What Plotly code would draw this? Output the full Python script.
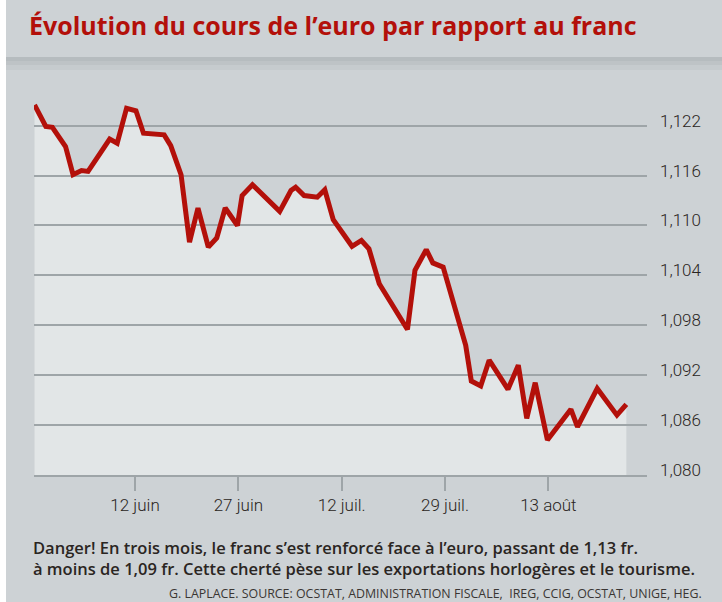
import plotly.graph_objects as go

# ---- data ----
# x: business-day index counted from 28 May (12 juin = 11, 27 juin = 22, ...)
jours_ouvres = [0.3, 1.5, 2.2, 3.6, 4.4, 5.3, 6.0, 8.3, 9.1, 10.1,
                11.1, 11.9, 14.1, 14.8, 15.9, 16.8, 17.7, 18.8, 19.7, 20.6,
                21.9, 22.4, 23.5, 26.4, 27.6, 28.1, 29.0, 30.4, 31.2, 32.1,
                34.1, 35.1, 35.9, 37.0, 40.0, 40.8, 42.0, 42.7, 43.8, 46.2,
                46.8, 47.8, 48.7, 50.7, 51.8, 52.7, 53.6, 54.9, 57.4, 58.1,
                60.2, 62.3, 63.3]
cours_euro = [1.1245, 1.1219, 1.1218, 1.1195, 1.1161, 1.1166, 1.1165, 1.1204, 1.1199, 1.1241,
              1.1238, 1.1211, 1.1209, 1.1196, 1.1161, 1.1080, 1.1121, 1.1074, 1.1085, 1.1121,
              1.1100, 1.1136, 1.1149, 1.1117, 1.1142, 1.1146, 1.1136, 1.1134, 1.1143, 1.1107,
              1.1075, 1.1082, 1.1072, 1.1030, 1.0975, 1.1046, 1.1071, 1.1055, 1.1050, 1.0956,
              1.0913, 1.0907, 1.0938, 1.0903, 1.0932, 1.0868, 1.0911, 1.0842, 1.0879, 1.0858,
              1.0904, 1.0872, 1.0885]

x_tick_vals = [11, 22, 33, 44, 55]
x_tick_labels = ["12 juin", "27 juin", "12 juil.", "29 juil.", "13 août"]
y_tick_vals = [1.080, 1.086, 1.092, 1.098, 1.104, 1.110, 1.116, 1.122]
y_tick_labels = ["1,080", "1,086", "1,092", "1,098", "1,104", "1,110", "1,116", "1,122"]

title = "Évolution du cours de l’euro par rapport au franc"
caption = ("Danger! En trois mois, le franc s’est renforcé face à l’euro, passant de 1,13 fr.<br>"
           "à moins de 1,09 fr. Cette cherté pèse sur les exportations horlogères et le tourisme.")
source = "G. LAPLACE. SOURCE: OCSTAT, ADMINISTRATION FISCALE,  IREG, CCIG, OCSTAT, UNIGE, HEG."

# ---- style ----
W, H = 722, 602
L, R, T, B = 34, 647, 70, 475
BG = "#cdd2d5"
FILL = "#e2e6e7"
GRID = "#9ea5a8"
RED = "#b3100a"
TXT = "#2a2522"

X_RANGE = [0.245, 65.5]
Y_RANGE = [1.080, 1.080 + (B - T) / 8317.0]


def px(x):
    return (x - L) / (R - L)


def py(y):
    return (B - y) / (B - T)


fig = go.Figure()

# area under the curve (bottom subplot)
fig.add_trace(go.Scatter(x=jours_ouvres, y=cours_euro, mode="lines",
                         line=dict(width=0, color=FILL), fill="tozeroy",
                         fillcolor=FILL, hoverinfo="skip", showlegend=False,
                         xaxis="x", yaxis="y"))
# red line (top subplot, above its grid)
fig.add_trace(go.Scatter(x=jours_ouvres, y=cours_euro, mode="lines",
                         line=dict(width=5, color=RED), showlegend=False,
                         xaxis="x2", yaxis="y2"))

fig.update_layout(
    width=W, height=H,
    margin=dict(l=L, r=W - R, t=T, b=H - B, pad=0),
    paper_bgcolor=BG, plot_bgcolor="rgba(0,0,0,0)",
    showlegend=False,
    xaxis=dict(domain=[0, 1], range=X_RANGE, visible=False, fixedrange=True),
    yaxis=dict(domain=[0, 1], range=Y_RANGE, visible=False, fixedrange=True),
    xaxis2=dict(domain=[0, 1], anchor="y2", range=X_RANGE,
                tickmode="array", tickvals=x_tick_vals, ticktext=x_tick_labels,
                ticks="outside", ticklen=14, tickwidth=1.5, tickcolor=GRID,
                showline=True, linecolor=GRID, linewidth=1.5,
                showgrid=False, zeroline=False,
                tickfont=dict(family="Roboto", size=17, color=TXT, weight=300)),
    yaxis2=dict(domain=[0, 1], anchor="x2", side="right", range=Y_RANGE,
                tickmode="array", tickvals=y_tick_vals, ticktext=y_tick_labels,
                ticks="", showgrid=True, gridcolor=GRID, gridwidth=1.5,
                zeroline=False, showline=False, ticklabelstandoff=12,
                ticklabelshift=-5,
                tickfont=dict(family="Roboto", size=17, color=TXT, weight=300)),
    shapes=[
        dict(type="rect", xref="paper", yref="paper", x0=px(0), x1=px(6),
             y0=py(H), y1=py(0), fillcolor="white", line=dict(width=0), layer="below"),
        dict(type="rect", xref="paper", yref="paper", x0=px(6), x1=px(W),
             y0=py(61), y1=py(57), fillcolor="#b6bcbf", line=dict(width=0), layer="below"),
        dict(type="rect", xref="paper", yref="paper", x0=px(6), x1=px(W),
             y0=py(65), y1=py(61), fillcolor="#bec3c6", line=dict(width=0), layer="below"),
        dict(type="rect", xref="paper", yref="paper", x0=px(6), x1=px(W),
             y0=py(70), y1=py(65), fillcolor="#c6cbce", line=dict(width=0), layer="below"),
    ],
    annotations=[
        dict(text=title, xref="paper", yref="paper", x=px(27), y=py(25),
             xanchor="left", yanchor="middle", showarrow=False,
             font=dict(family="Open Sans", size=25, color=RED, weight=700)),
        dict(text=caption, xref="paper", yref="paper", x=px(31), y=py(534),
             xanchor="left", yanchor="top", align="left", showarrow=False,
             font=dict(family="Open Sans", size=16.5, color=TXT, weight=600)),
        dict(text=source, xref="paper", yref="paper", x=px(167), y=py(593.5),
             xanchor="left", yanchor="middle", align="left", showarrow=False,
             font=dict(family="Open Sans", size=12.4, color="#3a3633")),
    ],
)

fig.write_html("out.html", config={"displayModeBar": False},
               post_script="document.body.style.margin='0';")
